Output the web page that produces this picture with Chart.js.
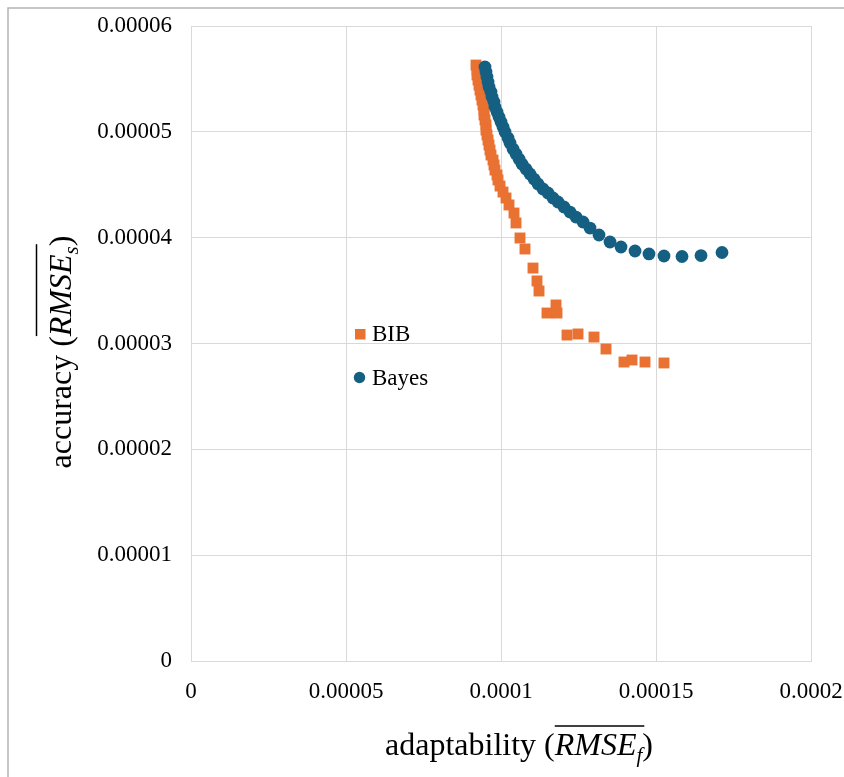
<!DOCTYPE html>
<html>
<head>
<meta charset="utf-8">
<script src="https://cdn.jsdelivr.net/npm/chart.js@4.4.1/dist/chart.umd.min.js"></script>
<style>
    body { margin: 0; background: #ffffff; }
    #wrap { width: 844px; height: 777px; }
</style>
</head>
<body>
<div id="wrap"><canvas id="scatterChart" width="844" height="777"></canvas></div>
<script>
// Data
const bibX = [
    0.00009194, 0.00009226, 0.00009226, 0.00009258, 0.00009290, 0.00009323, 0.00009355, 0.00009387,
    0.00009419, 0.00009452, 0.00009452, 0.00009484, 0.00009516, 0.00009516, 0.00009548, 0.00009581,
    0.00009613, 0.00009645, 0.00009677, 0.00009742, 0.00009774, 0.00009806, 0.00009871, 0.00009903,
    0.00009968, 0.00010065, 0.00010161, 0.00010258, 0.00010419, 0.00010484, 0.00010613, 0.00010774,
    0.00011032, 0.00011161, 0.00011226, 0.00011484, 0.00011774, 0.00011806, 0.00012129, 0.00012484,
    0.00013000, 0.00013387, 0.00013968, 0.00014226, 0.00014645, 0.00015258
];
const bibY = [
    0.00005631, 0.00005584, 0.00005537, 0.00005490, 0.00005442, 0.00005395, 0.00005348, 0.00005301,
    0.00005254, 0.00005206, 0.00005159, 0.00005112, 0.00005065, 0.00005017, 0.00004970, 0.00004923,
    0.00004876, 0.00004828, 0.00004781, 0.00004734, 0.00004687, 0.00004639, 0.00004592, 0.00004545,
    0.00004488, 0.00004431, 0.00004375, 0.00004309, 0.00004233, 0.00004139, 0.00003997, 0.00003893,
    0.00003713, 0.00003591, 0.00003496, 0.00003288, 0.00003364, 0.00003288, 0.00003080, 0.00003090,
    0.00003061, 0.00002948, 0.00002825, 0.00002844, 0.00002825, 0.00002816
];
const bayesX = [
    0.00009484, 0.00009516, 0.00009548, 0.00009581, 0.00009613, 0.00009677, 0.00009710, 0.00009774,
    0.00009806, 0.00009871, 0.00009935, 0.00010000, 0.00010065, 0.00010129, 0.00010226, 0.00010290,
    0.00010387, 0.00010484, 0.00010581, 0.00010677, 0.00010806, 0.00010935, 0.00011065, 0.00011194,
    0.00011355, 0.00011516, 0.00011677, 0.00011839, 0.00012032, 0.00012226, 0.00012419, 0.00012645,
    0.00012871, 0.00013161, 0.00013516, 0.00013871, 0.00014323, 0.00014774, 0.00015258, 0.00015839,
    0.00016452, 0.00017129
];
const bayesY = [
    0.00005613, 0.00005565, 0.00005518, 0.00005471, 0.00005424, 0.00005376, 0.00005329, 0.00005282,
    0.00005235, 0.00005187, 0.00005140, 0.00005093, 0.00005046, 0.00004998, 0.00004942, 0.00004894,
    0.00004838, 0.00004791, 0.00004743, 0.00004696, 0.00004649, 0.00004602, 0.00004554, 0.00004507,
    0.00004460, 0.00004422, 0.00004375, 0.00004337, 0.00004290, 0.00004242, 0.00004195, 0.00004148,
    0.00004091, 0.00004025, 0.00003959, 0.00003912, 0.00003874, 0.00003846, 0.00003827, 0.00003822,
    0.00003831, 0.00003860
];

// Tick labels
const xTickValues = [0, 0.00005, 0.0001, 0.00015, 0.0002];
const xTickLabels = ["0", "0.00005", "0.0001", "0.00015", "0.0002"];
const yTickValues = [0, 0.00001, 0.00002, 0.00003, 0.00004, 0.00005, 0.00006];
const yTickLabels = ["0", "0.00001", "0.00002", "0.00003", "0.00004", "0.00005", "0.00006"];

const seriesNames = ["BIB", "Bayes"];
const seriesColors = ["#E97132", "#156082"];

const serif = "'Liberation Serif', 'Times New Roman', serif";
const gridColor = "#d9d9d9";

function toPoints(xs, ys) {
    return xs.map((x, i) => ({ x: x, y: ys[i] }));
}

// Draws a run of text parts, each with its own font and vertical shift
function drawParts(ctx, parts, x, y) {
    parts.forEach(part => {
        ctx.font = part.font;
        ctx.fillText(part.text, x, y + (part.dy || 0));
        x += ctx.measureText(part.text).width;
    });
}

function partsWidth(ctx, parts) {
    let w = 0;
    parts.forEach(part => {
        ctx.font = part.font;
        w += ctx.measureText(part.text).width;
    });
    return w;
}

function titleParts(sub) {
    return [
        { text: sub === "f" ? "adaptability (" : "accuracy (", font: "32px " + serif },
        { text: "RMSE", font: "italic 32px " + serif },
        { text: sub, font: "italic 21px " + serif, dy: 7 },
        { text: ")", font: "32px " + serif }
    ];
}

// Axis titles with overline, legend inside the plot, and the outer frame
const extrasPlugin = {
    id: "extras",
    afterDraw(chart) {
        const ctx = chart.ctx;
        ctx.save();
        ctx.fillStyle = "#000000";
        ctx.strokeStyle = "#000000";
        ctx.textBaseline = "alphabetic";
        ctx.textAlign = "left";

        // x title
        const xParts = titleParts("f");
        const xw = partsWidth(ctx, xParts);
        const xStart = 519 - xw / 2;
        drawParts(ctx, xParts, xStart, 755);
        ctx.font = xParts[0].font;
        const olStartX = xStart + ctx.measureText(xParts[0].text).width;
        ctx.font = xParts[1].font;
        let olEnd = olStartX + ctx.measureText("RMSE").width;
        ctx.font = xParts[2].font;
        olEnd += ctx.measureText("f").width + 2;
        ctx.lineWidth = 1.5;
        ctx.beginPath();
        ctx.moveTo(olStartX, 726);
        ctx.lineTo(olEnd, 726);
        ctx.stroke();

        // y title (rotated)
        ctx.save();
        ctx.translate(70.5, 352);
        ctx.rotate(-Math.PI / 2);
        const yParts = titleParts("s");
        const yw = partsWidth(ctx, yParts);
        const yStart = -yw / 2;
        drawParts(ctx, yParts, yStart, 0);
        ctx.font = yParts[0].font;
        const olStartY = yStart + ctx.measureText(yParts[0].text).width;
        ctx.font = yParts[1].font;
        let olEndY = olStartY + ctx.measureText("RMSE").width;
        ctx.font = yParts[2].font;
        olEndY += ctx.measureText("s").width + 2;
        ctx.beginPath();
        ctx.moveTo(olStartY, -34);
        ctx.lineTo(olEndY, -34);
        ctx.stroke();
        ctx.restore();

        // Legend
        ctx.font = "23px " + serif;
        ctx.textBaseline = "middle";
        ctx.fillStyle = seriesColors[0];
        ctx.fillRect(355, 329, 10.5, 10.5);
        ctx.fillStyle = seriesColors[1];
        ctx.beginPath();
        ctx.arc(359.5, 377.5, 5.7, 0, Math.PI * 2);
        ctx.fill();
        ctx.fillStyle = "#000000";
        ctx.fillText(seriesNames[0], 372, 335);
        ctx.fillText(seriesNames[1], 372, 379);

        // Outer frame
        ctx.strokeStyle = "#b4b4b4";
        ctx.lineWidth = 1.5;
        ctx.beginPath();
        ctx.moveTo(8, 777);
        ctx.lineTo(8, 8);
        ctx.lineTo(844, 8);
        ctx.stroke();
        ctx.restore();
    }
};

const ctx = document.getElementById("scatterChart").getContext("2d");

new Chart(ctx, {
    type: "scatter",
    data: {
        datasets: [
            {
                label: seriesNames[0],
                data: toPoints(bibX, bibY),
                pointStyle: "rect",
                pointRadius: 7.7,
                pointHoverRadius: 7.7,
                backgroundColor: seriesColors[0],
                borderWidth: 0,
                order: 2
            },
            {
                label: seriesNames[1],
                data: toPoints(bayesX, bayesY),
                pointStyle: "circle",
                pointRadius: 6.4,
                pointHoverRadius: 6.4,
                backgroundColor: seriesColors[1],
                borderWidth: 0,
                order: 1
            }
        ]
    },
    options: {
        responsive: false,
        animation: false,
        layout: {
            padding: { top: 26, right: 33, left: 0, bottom: 0 }
        },
        scales: {
            x: {
                type: "linear",
                min: 0,
                max: 0.0002,
                afterFit: scale => {
                    scale.height = 116;
                    scale.paddingLeft = 0;
                    scale.paddingRight = 0;
                },
                afterBuildTicks: scale => {
                    scale.ticks = xTickValues.map(v => ({ value: v }));
                },
                grid: { color: gridColor, lineWidth: 1, drawTicks: false },
                border: { display: true, color: gridColor },
                ticks: {
                    padding: 17,
                    color: "#000000",
                    font: { family: serif, size: 23 },
                    maxRotation: 0,
                    callback: (value, index) => xTickLabels[index]
                }
            },
            y: {
                type: "linear",
                min: 0,
                max: 0.00006,
                afterFit: scale => {
                    scale.width = 191;
                    scale.paddingTop = 0;
                    scale.paddingBottom = 0;
                },
                afterBuildTicks: scale => {
                    scale.ticks = yTickValues.map(v => ({ value: v }));
                },
                grid: { color: gridColor, lineWidth: 1, drawTicks: false },
                border: { display: true, color: gridColor },
                ticks: {
                    padding: 19,
                    color: "#000000",
                    font: { family: serif, size: 23 },
                    callback: (value, index) => yTickLabels[index]
                }
            }
        },
        plugins: {
            legend: { display: false },
            tooltip: { enabled: false }
        }
    },
    plugins: [extrasPlugin]
});
</script>
</body>
</html>
